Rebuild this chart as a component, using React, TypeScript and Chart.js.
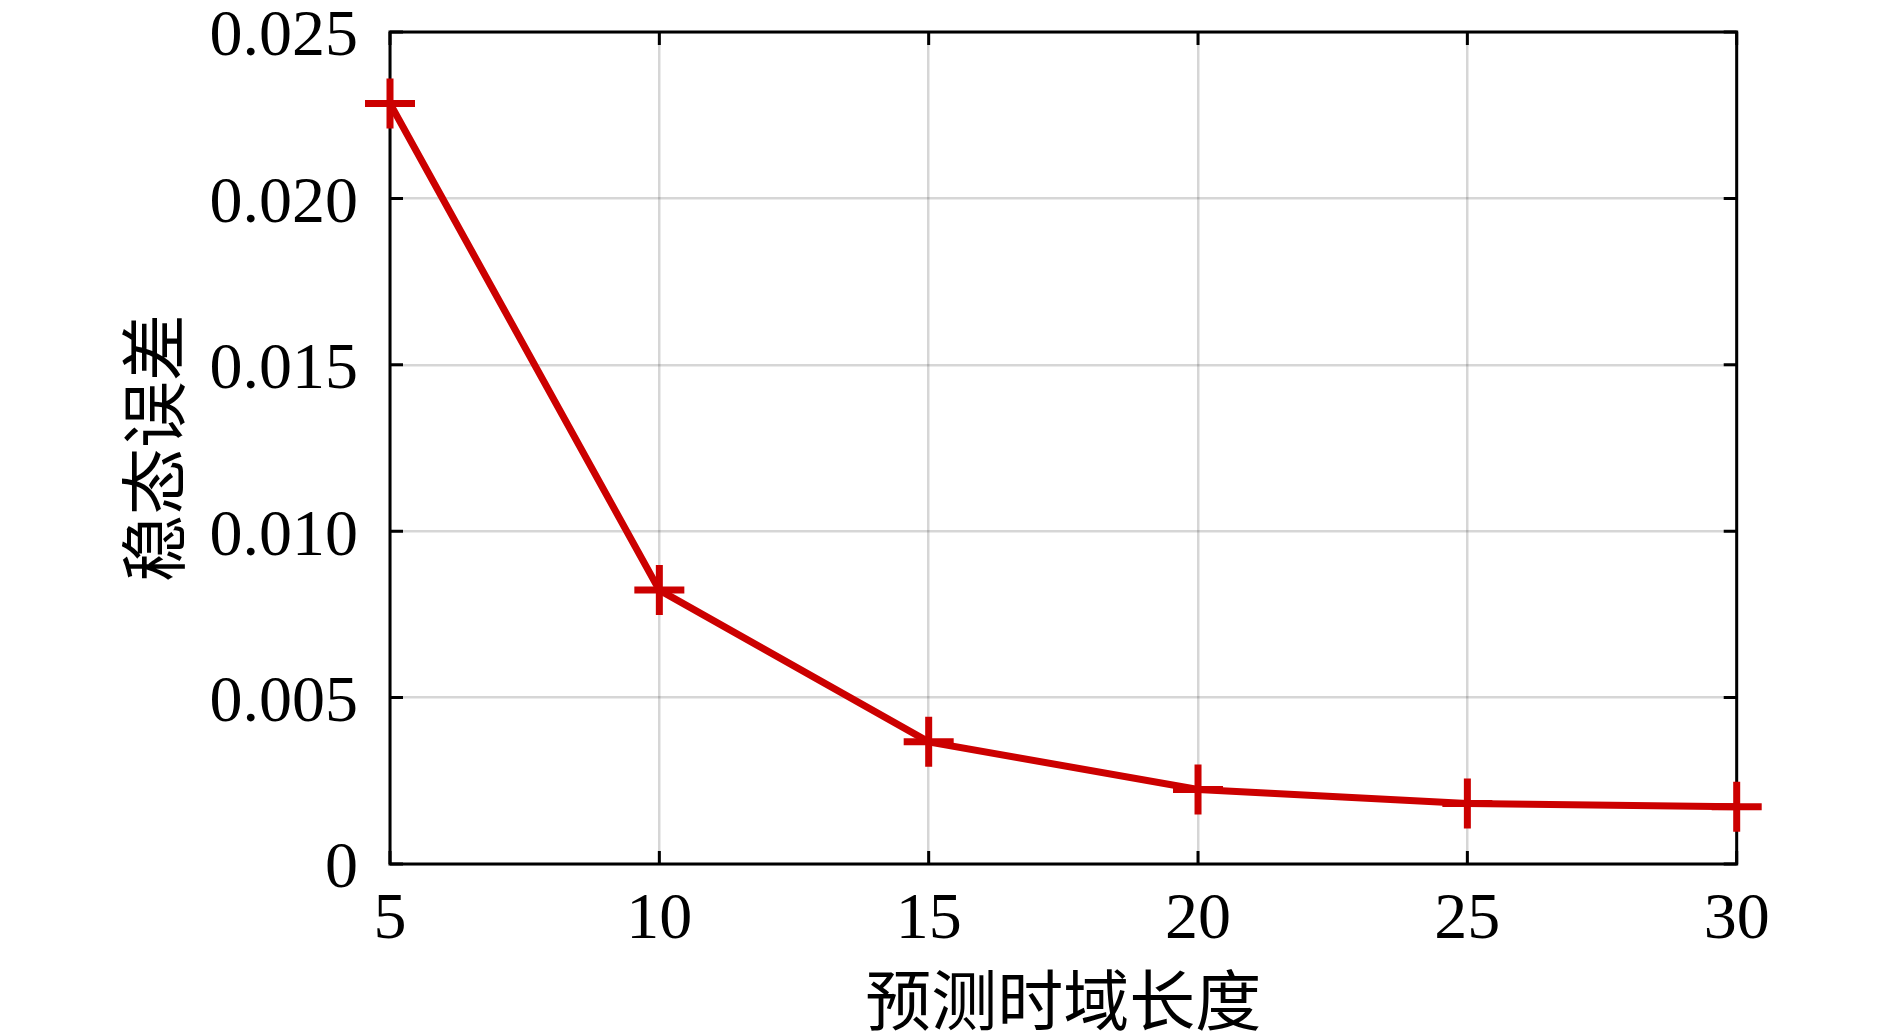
import React, { useEffect, useRef } from "react";
import { Chart, registerables } from "chart.js";

Chart.register(...registerables);

const horizons = [5, 10, 15, 20, 25, 30];
const steadyError = [0.02285, 0.00823, 0.00367, 0.00224, 0.00182, 0.00172];
const xTicks = [5, 10, 15, 20, 25, 30];
const yTicks = [0, 0.005, 0.01, 0.015, 0.02, 0.025];
const xTitle = "预测时域长度";
const yTitle = "稳态误差";

const W = 1890;
const H = 1033;
const AREA = { left: 390, top: 31.7, right: 1736.7, bottom: 864 };

const framePlugin = {
  id: "frameTicks",
  beforeDatasetsDraw(chart: any) {
    const { ctx, chartArea, scales } = chart;
    const { left, right, top, bottom } = chartArea;
    const tl = 13;
    ctx.save();
    ctx.strokeStyle = "#000";
    ctx.lineWidth = 3;
    ctx.lineCap = "butt";
    ctx.beginPath();
    xTicks.forEach((v) => {
      const px = scales.x.getPixelForValue(v);
      ctx.moveTo(px, bottom);
      ctx.lineTo(px, bottom - tl);
      ctx.moveTo(px, top);
      ctx.lineTo(px, top + tl);
    });
    yTicks.forEach((v) => {
      const py = scales.y.getPixelForValue(v);
      ctx.moveTo(left, py);
      ctx.lineTo(left + tl, py);
      ctx.moveTo(right, py);
      ctx.lineTo(right - tl, py);
    });
    ctx.stroke();
    ctx.lineJoin = "miter";
    ctx.strokeRect(left, top, right - left, bottom - top);
    ctx.restore();
  },
};

export default function App() {
  const ref = useRef<HTMLCanvasElement>(null);
  useEffect(() => {
    if (!ref.current) return;
    const chart = new Chart(ref.current, {
      type: "line",
      data: {
        datasets: [
          {
            data: horizons.map((x, i) => ({ x, y: steadyError[i] })),
            borderColor: "#CC0000",
            backgroundColor: "#CC0000",
            borderWidth: 7,
            pointStyle: "cross",
            pointRadius: 25,
            pointBorderWidth: 7,
            pointHoverRadius: 25,
            tension: 0,
            clip: false as any,
          },
        ],
      },
      options: {
        responsive: false,
        animation: false,
        events: [],
        layout: { padding: { left: 0, top: AREA.top, right: W - AREA.right, bottom: 0 } },
        plugins: { legend: { display: false }, tooltip: { enabled: false } },
        scales: {
          x: {
            type: "linear",
            min: 5,
            max: 30,
            afterBuildTicks: (s: any) => {
              s.ticks = xTicks.map((v) => ({ value: v }));
            },
            afterFit: (s: any) => {
              s.height = H - AREA.bottom;
              s.paddingLeft = 0;
              s.paddingRight = 0;
            },
            grid: { color: "rgba(0,0,0,0.16)", lineWidth: 2.5, drawTicks: false },
            border: { display: false },
            ticks: {
              padding: 17,
              color: "#000",
              font: { family: "'Liberation Serif', 'DejaVu Serif', serif", size: 66 },
              maxRotation: 0,
              callback: (v: any) => String(v),
            },
            title: {
              display: true,
              text: xTitle,
              color: "#000",
              font: { family: "'Noto Sans CJK SC', sans-serif", size: 66, lineHeight: 1 },
              padding: { top: 0, bottom: 0 },
            },
          },
          y: {
            type: "linear",
            min: 0,
            max: 0.025,
            afterBuildTicks: (s: any) => {
              s.ticks = yTicks.map((v) => ({ value: v }));
            },
            afterFit: (s: any) => {
              s.width = AREA.left;
              s.paddingTop = 0;
              s.paddingBottom = 0;
            },
            grid: { color: "rgba(0,0,0,0.16)", lineWidth: 2.5, drawTicks: false },
            border: { display: false },
            ticks: {
              padding: 32,
              labelOffset: 6,
              color: "#000",
              font: { family: "'Liberation Serif', 'DejaVu Serif', serif", size: 66 },
              callback: (v: any) => (v === 0 ? "0" : Number(v).toFixed(3)),
            },
            title: {
              display: true,
              text: yTitle,
              color: "#000",
              font: { family: "'Noto Sans CJK SC', sans-serif", size: 67, lineHeight: 1 },
              padding: { top: 120, bottom: 0 },
            },
          },
        },
      },
      plugins: [framePlugin],
    });
    return () => chart.destroy();
  }, []);
  return (
    <div style={{ position: "absolute", left: 0, top: 0, width: W, height: H, background: "#fff" }}>
      <canvas ref={ref} width={W} height={H} style={{ width: W, height: H, display: "block" }} />
    </div>
  );
}
